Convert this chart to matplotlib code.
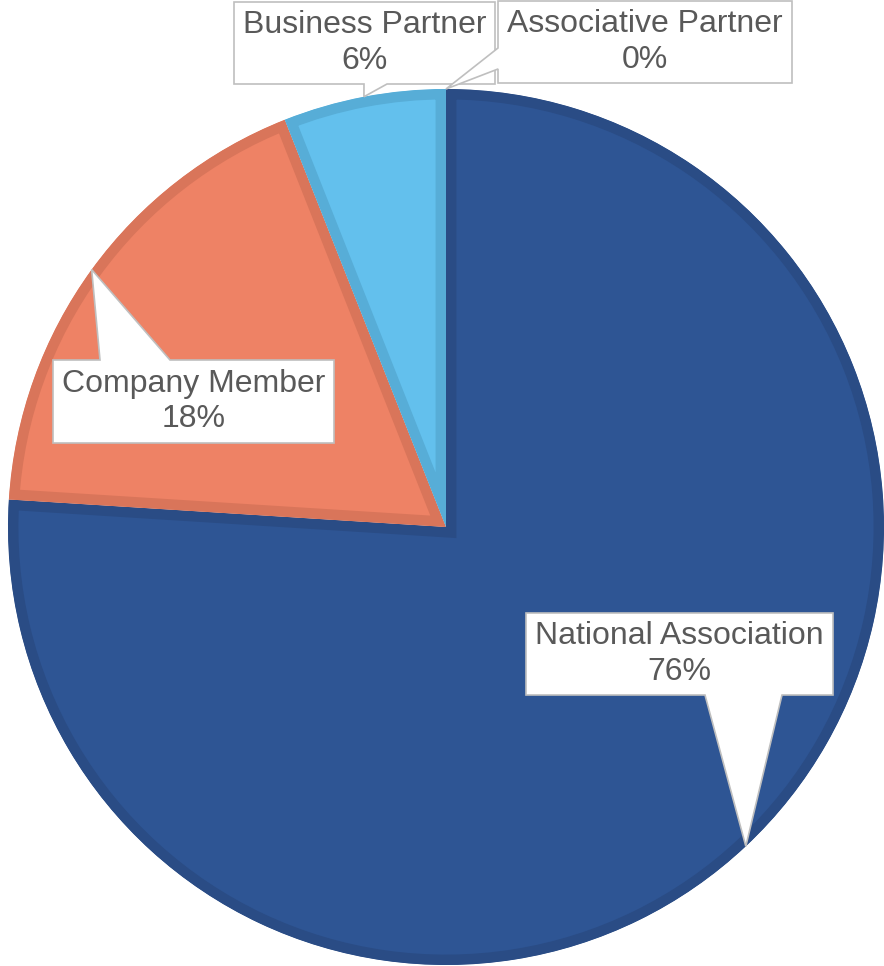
import numpy as np
import matplotlib
matplotlib.use("Agg")
import matplotlib.pyplot as plt
from matplotlib.patches import Polygon

categories = ["National Association", "Company Member", "Business Partner", "Associative Partner"]
shares = [76, 18, 6, 0]
fills = ["#2E5594", "#EE8265", "#63C0ED", "#A5A5A5"]
borders = ["#2A4C85", "#D9755A", "#57ADD7", "#959595"]

# callout boxes in pixel coords (x0, top, x1, bottom), tail side and tail base
boxes = [
    ((526, 613, 833, 695), "bottom", (705, 782)),
    ((53, 360, 334, 443), "top", (100, 170)),
    ((234, 2, 495, 84), "bottom", (364, 387)),
    ((498, 1, 792, 83), "left", (48, 69)),
]

W, H = 884, 966
cx, cy, R = 446, H - 527, 438

fig = plt.figure(figsize=(W / 100, H / 100), dpi=100)
ax = fig.add_axes([0, 0, 1, 1])

wedges, _ = ax.pie(shares, colors=fills, startangle=90, counterclock=False,
                   radius=R, center=(cx, cy), frame=True,
                   wedgeprops=dict(linewidth=15))
ax.set_xlim(0, W)
ax.set_ylim(0, H)
ax.axis("off")
for w, ec, val in zip(wedges, borders, shares):
    w.set_edgecolor(ec)
    if val == 0:
        w.set_linewidth(0)
    # keep only the inner half of the stroke
    w.set_clip_on(True)
    w.set_clip_path(w.get_path(), w.get_transform())

total = sum(shares)
for w, name, val, (box, side, base) in zip(wedges, categories, shares, boxes):
    mid = np.deg2rad((w.theta1 + w.theta2) / 2)
    tx, ty = cx + R * np.cos(mid), cy + R * np.sin(mid)
    x0, t, x1, b = box
    y0, y1 = H - t, H - b
    if side == "bottom":
        pts = [(x0, y0), (x1, y0), (x1, y1), (base[1], y1), (tx, ty), (base[0], y1), (x0, y1)]
    elif side == "top":
        pts = [(x0, y0), (base[0], y0), (tx, ty), (base[1], y0), (x1, y0), (x1, y1), (x0, y1)]
    else:
        pts = [(x0, y0), (x1, y0), (x1, y1), (x0, y1), (x0, H - base[1]), (tx, ty), (x0, H - base[0])]
    ax.add_patch(Polygon(pts, closed=True, facecolor="white", edgecolor="#BFBFBF",
                         linewidth=1.2, zorder=5))
    ax.text((x0 + x1) / 2, (y0 + y1) / 2, f"{name}\n{val / total * 100:.0f}%",
            ha="center", va="center", fontsize=23, color="#595959",
            family="Liberation Sans", linespacing=1.25, zorder=6)

fig.savefig("out.png", dpi=100)
